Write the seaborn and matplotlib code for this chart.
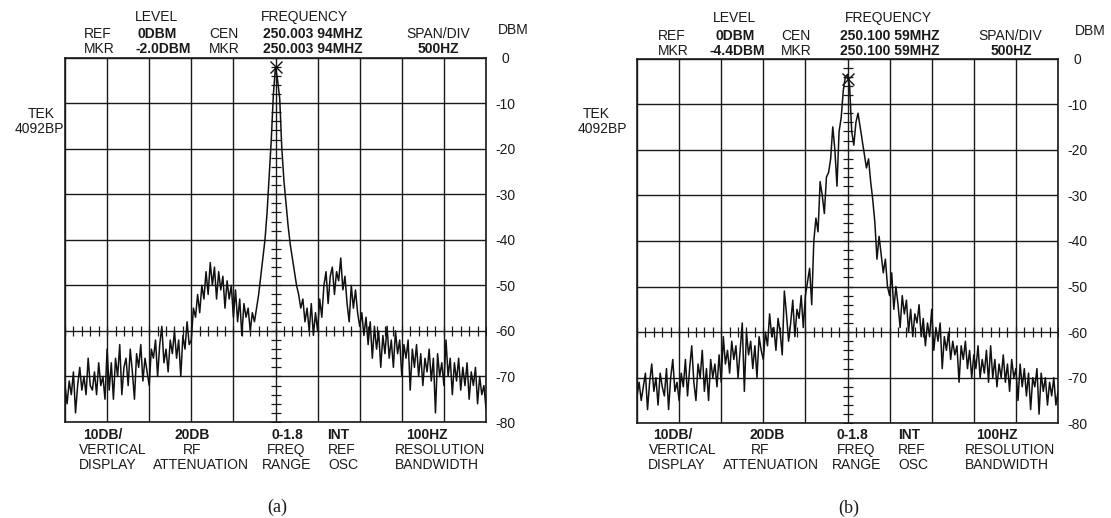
import numpy as np
import pandas as pd
import seaborn as sns
import matplotlib
matplotlib.use("Agg")
import matplotlib.pyplot as plt

# sweep: 10 divisions of 500 Hz around the carrier, trace read every 25 Hz
freq_hz = np.arange(-2500, 2501, 25)

# panel (a) trace, dBm, one row per division
level_a = [
    -72, -76, -71, -74, -69, -78, -72, -68, -73, -70, -74, -66, -72, -73, -69, -74, -67, -72, -70, -75,
    -64, -73, -67, -75, -66, -70, -63, -74, -68, -66, -72, -64, -69, -75, -65, -68, -63, -71, -66, -69,
    -72, -64, -66, -62, -70, -63, -59, -67, -64, -69, -62, -65, -60, -66, -62, -70, -61, -64, -58, -63,
    -62, -55, -57, -52, -56, -50, -53, -47, -52, -45, -50, -46, -53, -47, -51, -48, -55, -49, -53, -50,
    -57, -51, -58, -53, -61, -54, -57, -55, -60, -56, -58, -55, -52, -48, -44, -40, -34, -26, -18, -8,
    -2, -5, -9, -20, -27, -32, -37, -41, -44, -47, -50, -52, -55, -53, -58, -55, -60, -54, -61, -56,
    -60, -53, -57, -50, -47, -54, -48, -46, -52, -47, -49, -44, -51, -48, -54, -58, -50, -55, -51, -56,
    -59, -56, -61, -57, -63, -58, -66, -59, -64, -60, -68, -61, -65, -59, -66, -62, -68, -60, -65, -62,
    -70, -63, -66, -62, -73, -64, -68, -63, -70, -65, -72, -66, -69, -64, -71, -66, -78, -65, -70, -67,
    -72, -62, -70, -66, -74, -67, -71, -66, -73, -68, -72, -67, -75, -69, -72, -68, -76, -70, -74, -72,
    -77,
]

# panel (b) trace, dBm
level_b = [
    -74, -71, -75, -72, -69, -77, -71, -67, -73, -70, -76, -69, -72, -74, -68, -77, -70, -66, -73, -71,
    -75, -69, -72, -66, -74, -68, -63, -71, -75, -67, -70, -64, -73, -68, -75, -66, -70, -67, -72, -65,
    -71, -61, -67, -64, -69, -62, -66, -63, -70, -64, -58, -73, -60, -65, -62, -68, -63, -70, -61, -64,
    -66, -60, -63, -56, -61, -59, -64, -57, -60, -65, -51, -56, -62, -58, -53, -61, -55, -57, -52, -59,
    -52, -49, -46, -54, -40, -35, -38, -27, -30, -34, -26, -25, -22, -15, -20, -28, -16, -13, -7, -4,
    -3.5, -6, -16, -19, -14, -12, -15, -18, -21, -24, -22, -27, -31, -36, -44, -39, -43, -47, -44, -50,
    -52, -47, -55, -50, -54, -59, -52, -56, -53, -60, -55, -61, -56, -58, -54, -61, -57, -63, -58, -61,
    -55, -64, -59, -62, -58, -68, -61, -64, -60, -66, -62, -65, -63, -71, -63, -66, -62, -68, -64, -70,
    -65, -68, -63, -70, -66, -69, -64, -71, -63, -70, -66, -72, -67, -70, -65, -71, -67, -73, -66, -70,
    -68, -75, -67, -72, -68, -74, -69, -77, -70, -72, -68, -78, -69, -73, -70, -76, -71, -74, -70, -76,
    -73,
]

mkr_level = [-2.0, -4.4]
mkr_text = ["-2.0DBM", "-4.4DBM"]
cen_freq = ["250.003 94MHZ", "250.100 59MHZ"]
captions = ["(a)", "(b)"]
db_ticks = [0, -10, -20, -30, -40, -50, -60, -70, -80]
bottom_bold = ["10DB/", "20DB", "0-1.8", "INT", "100HZ"]
bottom_mid = ["VERTICAL", "RF", "FREQ", "REF", "RESOLUTION"]
bottom_low = ["DISPLAY", "ATTENUATION", "RANGE", "OSC", "BANDWIDTH"]

W, H = 1111, 518
sns.set_theme(style="white")
plt.rcParams['font.family'] = ['Liberation Sans', 'DejaVu Sans']
plt.rcParams['axes.unicode_minus'] = False

fig = plt.figure(figsize=(W / 100, H / 100), dpi=100)

# axes boxes in pixels: left, top, right, bottom
boxes = [(65, 57.6, 486, 422), (637, 58.5, 1058, 423.3)]
traces = [level_a, level_b]

ink = '#1a1a1a'


def put(x, y, s, ha='center', bold=False, size=10, family=None):
    kw = {}
    if family:
        kw['family'] = family
    fig.text(x / W, 1 - y / H, s, ha=ha, va='center', fontsize=size,
             fontweight='bold' if bold else 'normal', color=ink, **kw)


for i, (l, t, r, b) in enumerate(boxes):
    ax = fig.add_axes([l / W, 1 - b / H, (r - l) / W, (b - t) / H])
    df = pd.DataFrame({'freq': freq_hz, 'dbm': traces[i]})
    sns.lineplot(data=df, x='freq', y='dbm', ax=ax, color='#111111', lw=1.1,
                 estimator=None, zorder=3)
    ax.plot([0], [mkr_level[i]], marker='x', ms=8, mew=1.0, color='#111111', zorder=4)

    ax.set_xlim(-2500, 2500)
    ax.set_ylim(-80, 0)
    ax.set_xticks(np.arange(-2500, 2501, 500))
    ax.set_xticklabels([])
    ax.set_yticks(db_ticks)
    ax.set_yticklabels([str(v) for v in db_ticks])
    ax.yaxis.tick_right()
    ax.tick_params(axis='both', length=0)
    ax.tick_params(axis='y', pad=14, labelsize=10, labelcolor=ink)
    for lbl in ax.get_yticklabels():
        lbl.set_horizontalalignment('center')
    ax.set_xlabel('')
    ax.set_ylabel('')
    ax.grid(True, color=ink, lw=1.0)
    ax.set_axisbelow(True)
    for sp in ax.spines.values():
        sp.set_color(ink)
        sp.set_linewidth(1.2)

    # graticule minor ticks on the -60 dB line and the centre line
    gx = np.arange(-2500, 2501, 100)
    ax.plot(gx, np.full(len(gx), -60.0), ls='none', marker='|', ms=7, mew=0.9,
            color=ink, zorder=2)
    gy = np.arange(-80, 1, 2)
    ax.plot(np.zeros(len(gy)), gy, ls='none', marker='_', ms=7, mew=0.9,
            color=ink, zorder=2)

# header, panel (a)
put(156, 17, "LEVEL")
put(98, 34, "REF")
put(157, 34, "0DBM", bold=True)
put(224, 34, "CEN")
put(304, 17, "FREQUENCY")
put(313, 34, cen_freq[0], bold=True)
put(438, 34, "SPAN/DIV")
put(513, 30, "DBM")
put(99, 49, "MKR")
put(163, 49, mkr_text[0], bold=True)
put(224, 49, "MKR")
put(313, 49, cen_freq[0], bold=True)
put(438, 49, "500HZ", bold=True)
put(28, 114, "TEK", ha='left')
put(64, 129, "4092BP", ha='right')

# header, panel (b)
put(735, 18, "LEVEL")
put(672, 36, "REF")
put(735, 36, "0DBM", bold=True)
put(796, 36, "CEN")
put(888, 18, "FREQUENCY")
put(890, 36, cen_freq[1], bold=True)
put(1010, 36, "SPAN/DIV")
put(1090, 31, "DBM")
put(673, 51, "MKR")
put(737, 51, mkr_text[1], bold=True)
put(796, 51, "MKR")
put(890, 51, cen_freq[1], bold=True)
put(1011, 51, "500HZ", bold=True)
put(583, 114, "TEK", ha='left')
put(627, 129, "4092BP", ha='right')

# bottom settings rows: (x, ha) for bold / middle / low row
bottom_pos = [
    [((83, 'left'), (79, 'left'), (79, 'left')),
     ((192, 'center'), (192, 'center'), (201, 'center')),
     ((287, 'center'), (286, 'center'), (287, 'center')),
     ((327, 'left'), (328, 'left'), (328, 'left')),
     ((427, 'center'), (395, 'left'), (395, 'left'))],
    [((653, 'left'), (649, 'left'), (648, 'left')),
     ((767, 'center'), (760, 'center'), (771, 'center')),
     ((852, 'center'), (856, 'center'), (857, 'center')),
     ((898, 'left'), (898, 'left'), (898, 'left')),
     ((997, 'center'), (965, 'left'), (965, 'left'))],
]
for p in range(2):
    for k in range(5):
        (x1, h1), (x2, h2), (x3, h3) = bottom_pos[p][k]
        put(x1, 435, bottom_bold[k], ha=h1, bold=True)
        put(x2, 450, bottom_mid[k], ha=h2)
        put(x3, 465, bottom_low[k], ha=h3)

put(277, 507, captions[0], size=13, family=['Liberation Serif', 'DejaVu Serif'])
put(849, 508, captions[1], size=13, family=['Liberation Serif', 'DejaVu Serif'])

fig.savefig("out.png", dpi=100, facecolor='white')
